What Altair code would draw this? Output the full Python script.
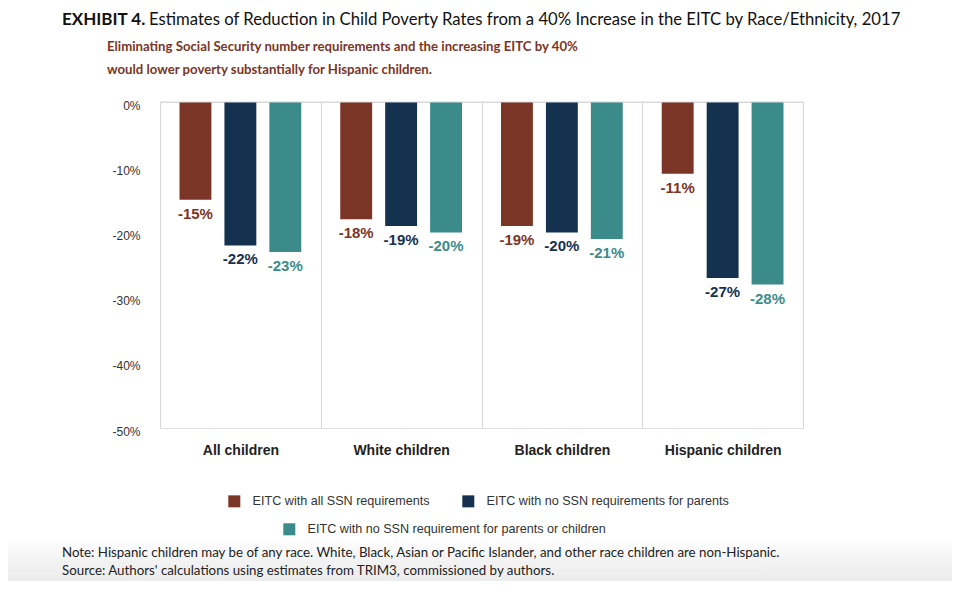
import altair as alt
import pandas as pd

groups = ["All children", "White children", "Black children", "Hispanic children"]
series = [
    "EITC with all SSN requirements",
    "EITC with no SSN requirements for parents",
    "EITC with no SSN requirement for parents or children",
]
all_ssn = [-15, -18, -19, -11]
no_ssn_parents = [-22, -19, -20, -27]
no_ssn_any = [-23, -20, -21, -28]
colors = ["#7B3526", "#14314F", "#3C8B8B"]
y_ticks = [0, -10, -20, -30, -40, -50]

title_bold = "EXHIBIT 4."
title_rest = "Estimates of Reduction in Child Poverty Rates from a 40% Increase in the EITC by Race/Ethnicity, 2017"
sub1 = "Eliminating Social Security number requirements and the increasing EITC by 40%"
sub2 = "would lower poverty substantially for Hispanic children."
note1 = "Note: Hispanic children may be of any race. White, Black, Asian or Pacific Islander, and other race children are non-Hispanic."
note2 = "Source: Authors' calculations using estimates from TRIM3, commissioned by authors."

rows = []
for name, vals in zip(series, [all_ssn, no_ssn_parents, no_ssn_any]):
    for g, v in zip(groups, vals):
        rows.append({"group": g, "series": name, "value": v, "label": f"{v}%"})
df = pd.DataFrame(rows)

ARIAL = "Liberation Sans"
HUM = "Lato"

x = alt.X(
    "group:N", sort=groups, title=None,
    scale=alt.Scale(paddingInner=0, paddingOuter=0),
    axis=alt.Axis(labelAngle=0, labelFont=ARIAL, labelFontWeight="bold", labelFontSize=14,
                  labelColor="#222222", labelPadding=15, ticks=False, domain=False,
                  grid=True, gridColor="#d6d6d6", gridWidth=1, tickBand="extent"),
)
xoff = alt.XOffset("series:N", sort=series,
                   scale=alt.Scale(paddingInner=0.29, paddingOuter=0.434))
y_scale = alt.Scale(domain=[-50, 0], nice=False)
y = alt.Y(
    "value:Q", title=None, scale=y_scale,
    axis=alt.Axis(values=y_ticks, labelExpr="datum.value + '%'", grid=False, ticks=False,
                  domain=False, labelFont=ARIAL, labelFontSize=12, labelColor="#333333",
                  labelPadding=20, labelOffset=3),
)

base = alt.Chart(df)

bars = base.mark_bar().encode(
    x=x, xOffset=xoff, y=y,
    color=alt.Color("series:N", sort=series,
                    scale=alt.Scale(domain=series, range=colors),
                    legend=alt.Legend(values=series[:2], orient="none", legendX=68, legendY=393,
                                      direction="horizontal", title=None, symbolType="square",
                                      symbolSize=144, symbolStrokeWidth=0, labelFont=ARIAL,
                                      labelFontSize=12.6, labelColor="#333333", labelOffset=12,
                                      columnPadding=32, labelLimit=400)),
)

labels = base.mark_text(baseline="top", dy=7, font=ARIAL, fontWeight="bold", fontSize=15).encode(
    x=x, xOffset=xoff, y=y, text="label:N",
    fill=alt.Fill("series:N", sort=series,
                  scale=alt.Scale(domain=series, range=colors),
                  legend=alt.Legend(values=series[2:], orient="none", legendX=123, legendY=421,
                                    title=None, symbolType="square", symbolSize=144,
                                    symbolStrokeWidth=0, labelFont=ARIAL, labelFontSize=12.6,
                                    labelColor="#333333", labelOffset=12, labelLimit=400)),
)

top_line = alt.Chart(pd.DataFrame({"v": [0]})).mark_rule(color="#d6d6d6", strokeWidth=1).encode(
    y=alt.datum(0)
)

shade = alt.Chart(pd.DataFrame({"v": [0]})).mark_rect(
    color=alt.LinearGradient(
        gradient="linear", x1=0, x2=0, y1=0, y2=1,
        stops=[alt.GradientStop(color="#ffffff", offset=0),
               alt.GradientStop(color="#f2f2f2", offset=0.55),
               alt.GradientStop(color="#ececec", offset=1)],
    )
).encode(x=alt.value(-160), x2=alt.value(800), y=alt.value(436), y2=alt.value(480))


def txt(s, xv, yv, **kw):
    return alt.Chart(pd.DataFrame({"t": [s]})).mark_text(align="left", baseline="middle", **kw).encode(
        text="t:N", x=alt.value(xv), y=alt.value(yv)
    )


texts = [
    txt(title_bold, -98, -82, font=HUM, fontSize=17, fontWeight="bold", color="#111111"),
    txt(title_rest, -11, -82, font=HUM, fontSize=16.7, color="#111111"),
    txt(sub1, -53, -55, font=HUM, fontSize=13.2, fontWeight="bold", color="#7B3526"),
    txt(sub2, -53, -32, font=HUM, fontSize=13.2, fontWeight="bold", color="#7B3526"),
    txt(note1, -98, 451, font=HUM, fontSize=13.3, color="#222222"),
    txt(note2, -98, 469, font=HUM, fontSize=13.3, color="#222222"),
]

chart = alt.layer(shade, bars, labels, top_line, *texts).resolve_scale(
    color="independent", fill="independent"
).properties(
    width=643, height=326,
    autosize=alt.AutoSizeParams(type="none"),
    padding={"left": 152, "top": 94, "right": 149, "bottom": 153},
).configure_view(stroke=None).configure(background="white")

chart.save("out.html", embed_options={"renderer": "svg", "actions": False})
